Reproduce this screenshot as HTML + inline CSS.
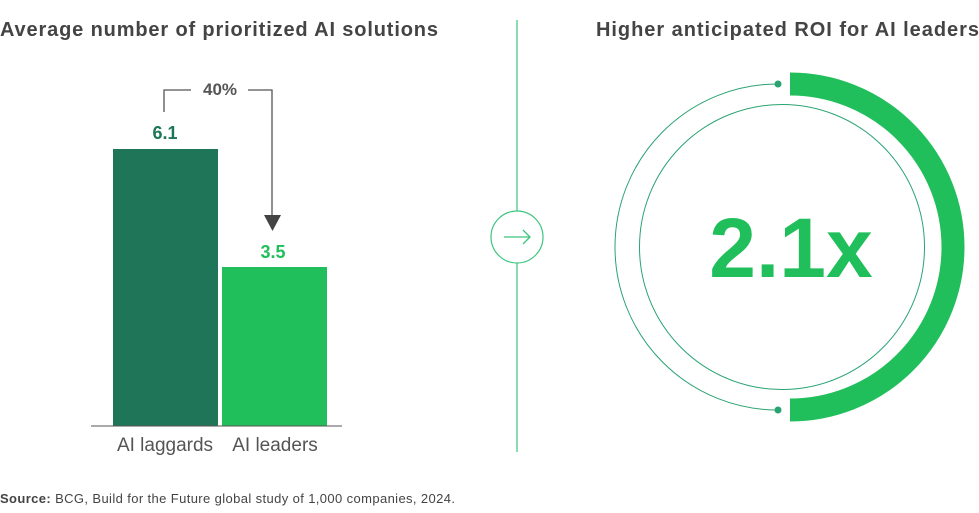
<!DOCTYPE html>
<html><head><meta charset="utf-8"><style>
body{margin:0;background:#fff;width:979px;height:508px;overflow:hidden;font-family:"Liberation Sans",sans-serif}
</style></head><body>
<svg width="979" height="508" viewBox="0 0 979 508" xmlns="http://www.w3.org/2000/svg" font-family="Liberation Sans, sans-serif">
<text x="0" y="36" font-size="20" font-weight="bold" fill="#444" textLength="438" lengthAdjust="spacing">Average number of prioritized AI solutions</text>
<text x="596" y="36" font-size="20" font-weight="bold" fill="#444" textLength="383" lengthAdjust="spacing">Higher anticipated ROI for AI leaders</text>
<rect x="113" y="149" width="105" height="277" fill="#1e7558"/>
<rect x="222" y="267" width="105" height="159" fill="#21bf5b"/>
<line x1="91" y1="426" x2="342" y2="426" stroke="#555" stroke-width="1"/>
<text x="165" y="139" font-size="18" font-weight="bold" fill="#1e7558" text-anchor="middle">6.1</text>
<text x="273" y="258" font-size="18" font-weight="bold" fill="#21bf5b" text-anchor="middle">3.5</text>
<text x="165" y="451" font-size="19" fill="#555" text-anchor="middle">AI laggards</text>
<text x="275" y="451" font-size="19" fill="#555" text-anchor="middle">AI leaders</text>
<polyline points="164,112 164,90 191,90" fill="none" stroke="#555" stroke-width="1.3"/>
<polyline points="248,90 272,90 272,216" fill="none" stroke="#555" stroke-width="1.3"/>
<polygon points="264,215 281,215 272.5,231" fill="#444"/>
<text x="220" y="95" font-size="17" font-weight="bold" fill="#555" text-anchor="middle">40%</text>
<line x1="517" y1="20" x2="517" y2="452" stroke="#3cc57e" stroke-width="1.2"/>
<circle cx="517" cy="237" r="26" fill="#fff" stroke="#3cc57e" stroke-width="1.2"/>
<line x1="504" y1="237" x2="530" y2="237" stroke="#3cc57e" stroke-width="1.3"/>
<polyline points="523,230 530,237 523,244" fill="none" stroke="#3cc57e" stroke-width="1.3"/>
<path d="M778 84 A163 163 0 1 0 778 410" fill="none" stroke="#2aa372" stroke-width="1"/>
<circle cx="778" cy="84" r="3.5" fill="#2aa372"/>
<circle cx="778" cy="410" r="3.5" fill="#2aa372"/>
<circle cx="782" cy="247" r="142.5" fill="none" stroke="#2aa372" stroke-width="1"/>
<path d="M790 84 A163 163 0 0 1 790 410" fill="none" stroke="#21bf5b" stroke-width="23"/>
<text x="791" y="277" font-size="84" font-weight="bold" fill="#21bf5b" text-anchor="middle">2.1x</text>
<text x="0" y="503" font-size="13" fill="#444" textLength="455" lengthAdjust="spacing"><tspan font-weight="bold">Source:</tspan> BCG, Build for the Future global study of 1,000 companies, 2024.</text>
</svg>
</body></html>
